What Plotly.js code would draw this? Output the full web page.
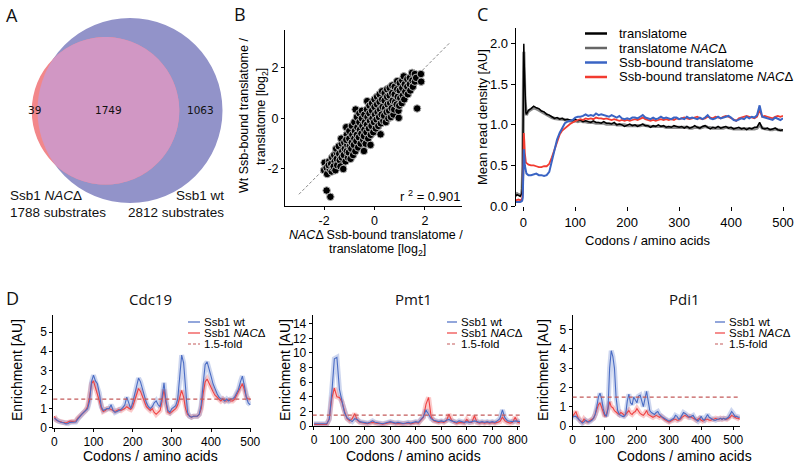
<!DOCTYPE html>
<html><head><meta charset="utf-8">
<script src="https://cdn.plot.ly/plotly-3.0.1.min.js"></script>
<style>html,body{margin:0;padding:0;background:#fff}#chart{width:800px;height:465px}</style>
</head><body><div id="chart"></div>
<script>
// ---------- Panel A: Venn counts ----------
const vennOnlyNac = 39, vennBoth = 1749, vennOnlyWt = 1063;
const vennNames = ['Ssb1 <i>NAC</i>\u0394', 'Ssb1 wt'];

// ---------- Panel B: scatter ----------
const bX = [-2.0,-1.98,-1.9,-1.88,-1.9,-1.8,-1.78,-1.75,-1.82,-1.7,-1.68,-1.72,-1.65,-1.6,-1.58,-1.62,-1.55,-1.5,-1.5,-1.48,-1.52,-1.42,-1.4,-1.38,-1.35,-1.3,-1.28,-1.3,-1.24,-1.32,-1.2,-1.18,-1.22,-1.15,-1.12,-1.1,-1.08,-1.1,-1.05,-1.12,-1.0,-1.0,-0.98,-1.02,-0.95,-0.9,-0.88,-0.9,-0.92,-0.85,-0.8,-0.78,-0.8,-0.82,-0.75,-0.76,-0.7,-0.68,-0.7,-0.72,-0.65,-0.6,-0.6,-0.58,-0.62,-0.55,-0.5,-0.5,-0.48,-0.52,-0.45,-0.42,-0.4,-0.38,-0.4,-0.42,-0.35,-0.29,-0.3,-0.28,-0.3,-0.32,-0.25,-0.2,-0.2,-0.18,-0.22,-0.15,-0.16,-0.1,-0.1,-0.08,-0.12,-0.05,0.0,0.0,0.02,-0.02,0.05,0.1,0.1,0.12,0.08,0.15,0.2,0.2,0.22,0.18,0.24,0.25,0.3,0.3,0.32,0.28,0.35,0.4,0.4,0.42,0.38,0.45,0.5,0.5,0.52,0.48,0.55,0.6,0.6,0.62,0.58,0.65,0.7,0.7,0.72,0.68,0.75,0.8,0.8,0.82,0.78,0.9,0.9,0.92,0.88,0.96,0.95,1.0,1.0,1.02,0.98,1.1,1.1,1.12,1.08,1.16,1.2,1.22,1.18,1.3,1.3,1.32,1.4,1.4,1.42,1.49,1.5,1.52,1.6,1.6,1.69,1.65,1.84,1.85];
const bY = [-2.05,-1.75,-1.95,-2.2,-2.85,-1.7,-2.0,-3.1,-1.85,-2.1,-1.55,-1.8,-1.95,-1.45,-1.7,-1.9,-2.05,-1.35,-1.6,-1.85,-1.2,-1.1,-1.4,-1.65,-1.9,-1.0,-1.3,-1.55,-2.0,-0.8,-0.95,-1.2,-1.45,-1.7,-0.35,-0.65,-1.05,-1.3,-1.55,-0.85,-0.5,-0.8,-1.1,-1.35,-1.6,-0.3,-0.65,-0.95,-1.2,-1.45,-0.15,-0.5,-0.8,-1.05,0.35,-1.3,0.05,-0.35,-0.65,-0.9,-1.15,0.2,-0.15,-0.45,-0.75,-1.0,0.3,0.0,-0.3,-0.6,-0.85,-1.29,0.15,-0.15,-0.45,-0.7,-1.0,0.68,0.35,0.05,-0.25,-0.55,-0.8,0.5,0.2,-0.1,-0.4,-0.65,-1.05,0.6,0.3,0.0,-0.3,-0.55,0.75,0.45,0.15,-0.15,-0.4,0.85,0.55,0.25,-0.05,-0.3,0.95,0.65,0.35,0.05,-0.63,-0.2,1.07,0.75,0.45,0.15,-0.1,1.0,0.7,0.4,0.1,-0.15,1.15,0.85,0.55,0.25,0.0,1.2,0.9,0.6,0.3,0.05,1.3,1.0,0.7,0.4,0.15,1.25,0.95,0.65,0.35,1.47,1.15,0.85,0.55,0.02,0.3,1.4,1.1,0.8,0.5,1.5,1.2,0.9,0.6,1.66,1.35,1.05,0.75,1.55,1.25,0.95,1.6,1.35,1.1,1.8,1.5,1.25,1.75,1.45,0.39,1.6,1.75,1.45];
const bDiag = [-3, 3];
const bR2 = 0.901;

// ---------- Panel C: mean read density ----------
const cNames = ['translatome', 'translatome <i>NAC</i>\u0394', 'Ssb-bound translatome', 'Ssb-bound translatome <i>NAC</i>\u0394'];
const cX = [-15,-12,-9,-6,-3,-2,-1,0,1,2,3,4,5,6,8,10,15,20,25,30,35,40,45,50,55,60,65,70,75,80,85,90,95,100,105,110,115,120,125,130,135,140,145,150,155,160,165,170,175,180,185,190,195,200,205,210,215,220,225,230,235,240,245,250,255,260,265,270,275,280,285,290,295,300,305,310,315,320,325,330,335,340,345,350,355,360,365,370,375,380,385,390,395,400,405,410,415,420,425,430,435,440,445,450,455,460,465,470,475,480,485,490,495,500];
const cTrans = [0.12,0.14,0.13,0.12,0.15,0.2,0.5,1.3,2.0,1.7,1.35,1.2,1.15,1.13,1.16,1.18,
 1.2,1.23,1.21,1.2,1.17,1.16,1.13,1.12,1.1,1.08,1.09,1.07,1.08,1.06,1.07,1.06,1.05,1.07,
 1.05,1.06,1.04,1.05,1.04,1.03,1.05,1.03,1.03,1.02,1.04,1.02,1.02,1.01,1.03,1.0,1.01,1.0,0.98,1.0,
 1.01,0.99,1.0,0.98,1.0,1.01,0.99,0.99,0.97,0.99,0.98,1.0,0.98,0.99,0.97,0.98,0.97,0.99,0.98,0.97,
 0.98,0.96,0.98,0.96,0.97,0.99,0.97,0.96,0.98,0.99,0.97,0.95,0.97,0.96,0.98,0.96,0.97,0.98,0.96,0.97,
 0.95,0.96,0.97,0.95,0.96,0.94,0.96,0.95,0.97,0.97,1.03,0.96,0.95,0.96,0.94,0.95,0.96,0.94,0.93,0.94];
const cTransNac = [0.13,0.15,0.14,0.13,0.16,0.22,0.45,1.2,1.9,1.65,1.3,1.18,1.14,1.12,1.15,1.17,
 1.19,1.21,1.2,1.18,1.16,1.14,1.12,1.1,1.09,1.08,1.07,1.07,1.07,1.06,1.06,1.05,1.05,1.05,
 1.04,1.05,1.04,1.04,1.03,1.03,1.03,1.02,1.02,1.02,1.02,1.01,1.01,1.01,1.01,1.0,1.0,1.0,1.0,0.99,
 0.99,0.99,0.99,0.99,0.99,1.0,0.99,0.98,0.98,0.98,0.98,0.98,0.98,0.98,0.97,0.97,0.97,0.97,0.97,0.97,
 0.97,0.97,0.97,0.96,0.96,0.97,0.97,0.96,0.97,0.98,0.97,0.96,0.96,0.96,0.96,0.96,0.96,0.97,0.96,0.96,
 0.95,0.95,0.95,0.95,0.95,0.95,0.95,0.95,0.95,0.96,1.0,0.96,0.95,0.95,0.94,0.94,0.95,0.94,0.93,0.93];
const cSsb = [0.05,0.05,0.05,0.05,0.06,0.07,0.1,0.35,0.7,0.62,0.5,0.44,0.42,0.4,0.39,0.38,
 0.38,0.39,0.4,0.38,0.38,0.37,0.38,0.42,0.55,0.7,0.82,0.9,0.97,1.02,1.04,1.05,1.06,1.09,
 1.1,1.1,1.11,1.13,1.11,1.12,1.11,1.14,1.12,1.13,1.12,1.11,1.1,1.12,1.1,1.09,1.11,1.08,1.07,1.08,
 1.07,1.09,1.09,1.08,1.1,1.12,1.09,1.08,1.07,1.09,1.07,1.08,1.1,1.08,1.09,1.08,1.07,1.09,1.09,1.07,
 1.08,1.07,1.1,1.08,1.09,1.08,1.07,1.09,1.07,1.09,1.12,1.08,1.07,1.08,1.1,1.08,1.09,1.1,1.11,1.09,
 1.06,1.05,1.07,1.08,1.07,1.1,1.08,1.1,1.09,1.12,1.24,1.1,1.09,1.08,1.07,1.06,1.09,1.07,1.06,1.08];
const cSsbNac = [0.07,0.08,0.08,0.07,0.08,0.1,0.15,0.45,0.9,0.8,0.65,0.57,0.54,0.53,0.52,0.51,
 0.5,0.5,0.49,0.48,0.48,0.49,0.49,0.52,0.6,0.7,0.8,0.88,0.93,0.96,0.99,1.01,1.03,1.05,
 1.06,1.07,1.06,1.08,1.07,1.08,1.07,1.09,1.08,1.08,1.07,1.08,1.07,1.06,1.07,1.06,1.05,1.06,1.05,1.06,
 1.05,1.06,1.07,1.06,1.08,1.09,1.07,1.06,1.05,1.06,1.05,1.06,1.07,1.06,1.07,1.06,1.07,1.06,1.08,1.07,
 1.08,1.09,1.08,1.07,1.08,1.09,1.1,1.08,1.07,1.08,1.1,1.09,1.08,1.1,1.09,1.08,1.1,1.11,1.1,1.08,
 1.06,1.05,1.08,1.09,1.1,1.11,1.1,1.09,1.08,1.1,1.18,1.1,1.11,1.1,1.09,1.08,1.1,1.11,1.1,1.11];

// ---------- Panel D: enrichment profiles ----------
const dNames = ['Ssb1 wt', 'Ssb1 <i>NAC</i>\u0394', '1.5-fold'];
const foldThreshold = 1.5;
const cdcX = [0,5,10,15,20,25,30,35,40,45,50,55,60,65,70,75,80,85,90,95,100,105,110,115,120,125,130,135,140,145,150,155,160,165,170,175,180,185,190,195,200,205,210,215,220,225,230,235,240,245,250,255,260,265,270,275,280,285,290,295,300,305,310,315,320,325,330,335,340,345,350,355,360,365,370,375,380,385,390,395,400,405,410,415,420,425,430,435,440,445,450,455,460,465,470,475,480,485,490,495,500];
const cdcWt = [0.5,0.4,0.35,0.3,0.28,0.25,0.2,0.22,0.28,0.3,0.28,0.3,0.45,0.6,0.7,0.8,0.9,1.0,1.4,2.4,2.75,2.45,2.3,1.8,1.1,0.9,0.95,1.0,1.0,1.2,0.9,0.8,0.85,0.9,0.95,1.05,1.2,1.6,1.25,1.0,1.3,1.7,2.2,2.6,2.4,2.0,1.6,1.3,1.1,1.0,1.1,1.3,1.4,1.2,1.1,1.6,2.35,1.4,0.9,0.8,1.0,1.1,1.15,1.5,2.5,3.8,3.4,2.0,0.8,0.6,0.55,0.6,0.6,0.6,0.7,1.2,2.3,3.3,3.45,3.0,2.7,2.3,2.0,1.8,1.6,1.5,1.5,1.4,1.5,1.4,1.5,1.5,1.6,1.8,2.0,2.4,2.7,2.2,1.6,1.3,1.2];
const cdcNac = [0.6,0.4,0.35,0.3,0.28,0.27,0.25,0.3,0.35,0.33,0.33,0.35,0.5,0.6,0.7,0.8,0.9,1.1,1.6,2.3,2.45,2.1,1.8,1.4,1.0,0.85,0.9,1.0,1.0,0.95,0.9,0.85,0.9,0.95,0.9,0.95,1.0,1.1,1.0,0.95,1.1,1.4,1.8,2.05,1.9,1.6,1.3,1.1,1.0,0.9,1.0,0.8,0.7,0.8,0.9,1.4,2.0,1.3,0.8,0.75,0.85,0.9,1.0,1.2,1.6,1.95,1.6,1.0,0.7,0.6,0.55,0.6,0.6,0.6,0.7,1.0,1.8,2.4,2.55,2.3,2.1,1.9,1.7,1.6,1.5,1.4,1.5,1.4,1.4,1.45,1.4,1.4,1.5,1.7,1.9,2.1,2.3,2.0,1.6,1.5,1.5];
const pmtX = [0,10,20,30,40,50,60,70,80,90,100,110,120,130,140,150,160,170,180,190,200,210,220,230,240,250,260,270,280,290,300,310,320,330,340,350,360,370,380,390,400,410,420,430,440,450,460,470,480,490,500,510,520,530,540,550,560,570,580,590,600,610,620,630,640,650,660,670,680,690,700,710,720,730,740,750,760,770,780,790,800,810];
const pmtWt = [0.3,0.3,0.25,0.2,0.25,0.3,0.9,4.5,9.2,9.4,5.0,3.2,1.8,1.1,0.8,0.6,1.0,0.9,0.6,0.5,0.5,0.4,0.5,0.7,0.5,0.4,0.35,0.3,0.4,0.5,0.6,0.5,0.4,0.5,0.4,0.35,0.4,0.5,0.4,0.5,0.6,0.5,0.9,1.3,2.2,1.6,1.0,0.8,0.7,0.6,0.7,0.6,0.8,0.9,0.7,0.6,0.5,0.7,0.6,0.5,0.6,0.5,0.6,0.7,0.6,0.5,0.6,0.5,0.6,0.5,0.6,0.5,0.7,1.0,2.2,1.1,0.7,0.6,0.6,0.7,0.6,0.6];
const pmtNac = [0.2,0.2,0.15,0.15,0.2,0.2,1.0,3.8,5.2,4.0,3.9,3.3,2.0,1.0,0.7,1.0,1.7,0.8,0.5,0.4,0.4,0.3,0.4,0.5,0.4,0.3,0.3,0.25,0.3,0.4,0.5,0.4,0.3,0.35,0.3,0.3,0.35,0.4,0.3,0.4,0.5,0.4,0.8,1.2,3.0,3.9,1.3,0.7,0.6,0.5,0.6,0.5,0.7,1.6,0.8,0.5,0.4,0.5,0.5,0.4,0.9,0.5,0.5,1.4,0.5,0.4,0.5,0.4,0.5,0.4,0.5,0.4,0.5,0.6,1.2,0.7,0.5,0.4,0.5,1.2,0.5,0.4];
const pdiX = [0,5,10,15,20,25,30,35,40,45,50,55,60,65,70,75,80,85,90,95,100,105,110,115,120,125,130,135,140,145,150,155,160,165,170,175,180,185,190,195,200,205,210,215,220,225,230,235,240,245,250,255,260,265,270,275,280,285,290,295,300,305,310,315,320,325,330,335,340,345,350,355,360,365,370,375,380,385,390,395,400,405,410,415,420,425,430,435,440,445,450,455,460,465,470,475,480,485,490,495,500,505,510,515,520];
const pdiWt = [0.45,0.5,0.5,0.4,0.3,0.2,0.15,0.2,0.3,0.25,0.2,0.25,0.3,0.4,0.6,1.0,1.5,1.7,1.4,0.9,0.6,0.5,0.9,3.0,3.9,3.6,3.0,1.5,0.8,0.6,0.55,0.5,0.5,0.6,1.3,1.65,1.2,1.1,1.5,1.3,1.2,1.55,1.6,1.3,1.0,1.4,1.8,1.3,0.8,0.7,0.65,0.6,0.7,0.75,0.6,0.5,0.45,0.4,0.35,0.3,0.25,0.3,0.35,0.4,0.55,0.5,0.35,0.4,0.55,0.7,0.65,0.55,0.5,0.45,0.5,0.55,0.4,0.3,0.25,0.35,0.5,0.35,0.3,0.45,0.6,0.45,0.4,0.35,0.3,0.3,0.35,0.35,0.4,0.35,0.4,0.35,0.4,0.45,0.6,0.75,0.65,0.5,0.5,0.45,0.45];
const pdiNac = [0.5,0.6,0.75,0.5,0.3,0.25,0.2,0.35,0.25,0.2,0.25,0.3,0.35,0.4,0.6,0.85,1.1,1.2,1.0,0.7,0.5,0.6,1.0,1.25,1.0,0.95,0.8,0.7,0.65,0.6,0.7,0.65,0.55,0.6,0.7,0.8,0.65,0.6,0.7,0.75,0.9,0.75,0.65,0.6,0.55,0.65,0.8,0.6,0.55,0.5,0.45,0.5,0.55,0.5,0.45,0.5,0.4,0.35,0.3,0.25,0.2,0.25,0.3,0.35,0.35,0.3,0.3,0.35,0.45,0.5,0.55,0.5,0.45,0.5,0.45,0.4,0.35,0.3,0.35,0.4,0.3,0.25,0.3,0.35,0.35,0.3,0.3,0.35,0.35,0.4,0.35,0.35,0.4,0.35,0.4,0.35,0.35,0.4,0.45,0.55,0.5,0.45,0.4,0.4,0.35];
const dTitles = ['Cdc19', 'Pmt1', 'Pdi1'];

// ---------- layout helpers (pixel placement on an 800x465 canvas) ----------
const W = 800, H = 465;
const FONT = 'Liberation Sans, Arial, sans-serif';
const TFONT = 'Open Sans, sans-serif';
const px = v => v / W, py = v => 1 - v / H;
const dom = (a, b) => [px(a), px(b)];
const domY = (top, bot) => [py(bot), py(top)];
function axis(domain, range, extra) {
  return Object.assign({domain, range, showline: true, linecolor: '#000', linewidth: 1, mirror: false,
    ticks: 'outside', ticklen: 4, tickwidth: 1, tickcolor: '#000', showgrid: false, zeroline: false,
    fixedrange: true, tickfont: {family: FONT, size: 13, color: '#000'}}, extra || {});
}
function ann(text, x, y, o) {
  return Object.assign({text, x: px(x), y: py(y), xref: 'paper', yref: 'paper', showarrow: false,
    xanchor: 'center', yanchor: 'middle', font: {family: FONT, size: 13, color: '#000'}}, o || {});
}
function seg(x0, x1, y, color, width, dash) {
  return {type: 'line', xref: 'paper', yref: 'paper', x0: px(x0), x1: px(x1), y0: py(y), y1: py(y),
    line: {color, width, dash: dash || 'solid'}};
}

const BLUE_C = '#3a64c4', RED_C = '#f23b30';
const BLUE_D = '#4a6cc4', RED_D = '#ef4242', FOLD_C = '#c45a5a';
const dTick = {family: FONT, size: 12, color: '#000'};

const traces = [];
// Panel B
traces.push({x: bDiag, y: bDiag, xaxis: 'x', yaxis: 'y', mode: 'lines', hoverinfo: 'skip',
  line: {color: '#888', width: 1, dash: '3px,2px'}});
traces.push({x: bX, y: bY, xaxis: 'x', yaxis: 'y', mode: 'markers', type: 'scatter',
  marker: {size: 7.5, color: '#000', line: {color: '#b4b4b4', width: 1}}});
// Panel C
traces.push({x: cX, y: cTransNac, xaxis: 'x2', yaxis: 'y2', mode: 'lines', line: {color: 'rgba(110,110,110,0.8)', width: 3.2}});
traces.push({x: cX, y: cTrans, xaxis: 'x2', yaxis: 'y2', mode: 'lines', line: {color: '#000', width: 1.5}});
traces.push({x: cX, y: cSsbNac, xaxis: 'x2', yaxis: 'y2', mode: 'lines', line: {color: RED_C, width: 1.8}});
traces.push({x: cX, y: cSsb, xaxis: 'x2', yaxis: 'y2', mode: 'lines', line: {color: BLUE_C, width: 2}});
// Panel D
const dSets = [[cdcX, cdcWt, cdcNac], [pmtX, pmtWt, pmtNac], [pdiX, pdiWt, pdiNac]];
dSets.forEach((s, i) => {
  const xa = 'x' + (i + 3), ya = 'y' + (i + 3);
  traces.push({x: s[0], y: s[2], xaxis: xa, yaxis: ya, mode: 'lines', line: {color: 'rgba(239,66,66,0.28)', width: 5}});
  traces.push({x: s[0], y: s[1], xaxis: xa, yaxis: ya, mode: 'lines', line: {color: 'rgba(74,108,196,0.28)', width: 5}});
  traces.push({x: s[0], y: s[2], xaxis: xa, yaxis: ya, mode: 'lines', line: {color: RED_D, width: 1.1}});
  traces.push({x: s[0], y: s[1], xaxis: xa, yaxis: ya, mode: 'lines', line: {color: BLUE_D, width: 1.1}});
});

// Venn geometry from counts (area proportional to count)
const nacTotal = vennOnlyNac + vennBoth, wtTotal = vennBoth + vennOnlyWt;
const rWt = 92.5, rNac = rWt * Math.sqrt(nacTotal / wtTotal);
const cWt = [130, 110.5], cNac = [105.5, 110.8];
const shapes = [];
shapes.push({type: 'circle', xref: 'x6', yref: 'y6', x0: cWt[0] - rWt, x1: cWt[0] + rWt, y0: cWt[1] - rWt, y1: cWt[1] + rWt,
  fillcolor: '#9293c9', line: {width: 0}});
shapes.push({type: 'circle', xref: 'x6', yref: 'y6', x0: cNac[0] - rNac, x1: cNac[0] + rNac, y0: cNac[1] - rNac, y1: cNac[1] + rNac,
  fillcolor: '#f2878a', line: {width: 0}});
let path = '';
for (let k = 0; k <= 180; k++) {
  const t = 2 * Math.PI * k / 180;
  let x = cNac[0] + rNac * Math.cos(t), y = cNac[1] + rNac * Math.sin(t);
  const dx = x - cWt[0], dy = y - cWt[1], d = Math.hypot(dx, dy);
  if (d > rWt) { x = cWt[0] + dx * rWt / d; y = cWt[1] + dy * rWt / d; }
  path += (k === 0 ? 'M' : 'L') + x.toFixed(2) + ',' + y.toFixed(2) + ' ';
}
shapes.push({type: 'path', xref: 'x6', yref: 'y6', path: path + 'Z', fillcolor: '#d197c4', line: {width: 0}});

// fold-change thresholds
['3', '4', '5'].forEach(n => shapes.push({type: 'line', xref: 'x' + n + ' domain', yref: 'y' + n, x0: 0, x1: 1,
  y0: foldThreshold, y1: foldThreshold, line: {color: FOLD_C, width: 1.2, dash: '4px,3px'}}));

// Panel C legend
const cLegY = [33.5, 48, 62.5, 77];
const cLegCol = ['#000', '#666', BLUE_C, RED_C];
cLegY.forEach((y, i) => shapes.push(seg(585, 607, y, cLegCol[i], 2.5)));
// Panel D legends
const dLeg = [[188, 200, 202], [447, 457, 459], [715, 725, 727]];
const dLegY = [322, 333, 344];
dLeg.forEach(l => {
  shapes.push(seg(l[0], l[1], dLegY[0], BLUE_D, 1.2));
  shapes.push(seg(l[0], l[1], dLegY[1], RED_D, 1.2));
  shapes.push(seg(l[0], l[1], dLegY[2], FOLD_C, 1.2, '3px,2px'));
});

const annotations = [];
// panel letters
[['A', 12, 15], ['B', 240, 14], ['C', 482, 14], ['D', 12, 298]].forEach(a =>
  annotations.push(ann(a[0], a[1], a[2], {font: {family: TFONT, size: 18, color: '#111'}})));
// Venn labels
const vf = {family: 'DejaVu Sans, sans-serif', size: 10.5, color: '#111'};
annotations.push(ann(String(vennOnlyNac), 34, 110, {font: vf}));
annotations.push(ann(String(vennBoth), 108, 110, {font: vf}));
annotations.push(ann(String(vennOnlyWt), 201, 110, {font: vf}));
const lf = {family: FONT, size: 13.5, color: '#111'};
annotations.push(ann(vennNames[0], 8, 195, {xanchor: 'left', font: lf}));
annotations.push(ann(nacTotal + ' substrates', 8, 212, {xanchor: 'left', font: lf}));
annotations.push(ann(vennNames[1], 226, 195, {xanchor: 'right', font: lf}));
annotations.push(ann(wtTotal + ' substrates', 226, 212, {xanchor: 'right', font: lf}));
// Panel B titles
annotations.push(ann('Wt Ssb-bound translatome /', 244, 116, {textangle: -90, font: {family: FONT, size: 12.5}}));
annotations.push(ann('translatome [log<sub>2</sub>]', 262, 117, {textangle: -90, font: {family: FONT, size: 12.5}}));
annotations.push(ann('<i>NAC</i>\u0394 Ssb-bound translatome /', 376, 234.5, {font: {family: FONT, size: 12.5}}));
annotations.push(ann('translatome [log<sub>2</sub>]', 377, 250, {font: {family: FONT, size: 12.5}}));
annotations.push(ann('r <sup>2</sup> = ' + bR2.toFixed(3), 462, 196, {xanchor: 'right', font: {family: FONT, size: 13}}));
// Panel C titles & legend
annotations.push(ann('Mean read density [AU]', 483, 117, {textangle: -90, font: {family: FONT, size: 13}}));
annotations.push(ann('Codons / amino acids', 648, 240, {font: {family: FONT, size: 13}}));
cLegY.forEach((y, i) => annotations.push(ann(cNames[i], 617, y, {xanchor: 'left', font: {family: FONT, size: 13}})));
// Panel D titles
const dCenters = [150, 413, 684];
const dYT = [17, 285, 543];
dTitles.forEach((t, i) => {
  annotations.push(ann(t, dCenters[i], 299, {font: {family: TFONT, size: 15, color: '#111'}}));
  annotations.push(ann('Codons / amino acids', dCenters[i], 456, {font: {family: FONT, size: 14}}));
  annotations.push(ann('Enrichment [AU]', dYT[i], 370, {textangle: -90, font: {family: FONT, size: 14}}));
  dNames.forEach((n, j) => annotations.push(ann(n, dLeg[i][2], dLegY[j], {xanchor: 'left', font: {family: FONT, size: 11.5}})));
});

const dAx = {ticklen: 3, tickfont: dTick};
const bAx = {ticklen: 3, tickfont: {family: FONT, size: 12.5, color: '#000'}};
const layout = {
  width: W, height: H, margin: {l: 0, r: 0, t: 0, b: 0}, paper_bgcolor: '#fff', plot_bgcolor: 'rgba(0,0,0,0)',
  showlegend: false, font: {family: FONT, color: '#000'},
  xaxis: axis(dom(285, 462), [-3.55, 3.47], Object.assign({anchor: 'y', tickvals: [-2, 0, 2], ticktext: ['-2', '0', '2']}, bAx)),
  yaxis: axis(domY(30, 205.7), [-3.45, 3.49], Object.assign({anchor: 'x', tickvals: [-2, 0, 2], ticktext: ['-2', '0', '2']}, bAx)),
  xaxis2: axis(dom(515.7, 783), [-14.6, 500], {anchor: 'y2', tickvals: [0, 100, 200, 300, 400, 500], showline: false}),
  yaxis2: axis(domY(28.3, 206), [0, 2.19], {anchor: 'x2', tickvals: [0, 0.5, 1, 1.5, 2], tickformat: '.1f'}),
  xaxis3: axis(dom(53.3, 251), [-2.5, 502], Object.assign({anchor: 'y3', tickvals: [0, 100, 200, 300, 400, 500]}, dAx)),
  yaxis3: axis(domY(315, 427.7), [0, 5.9], Object.assign({anchor: 'x3', tickvals: [0, 1, 2, 3, 4, 5]}, dAx)),
  xaxis4: axis(dom(312.7, 520), [-5, 809], Object.assign({anchor: 'y4', tickvals: [0, 100, 200, 300, 400, 500, 600, 700, 800]}, dAx)),
  yaxis4: axis(domY(315, 426), [0, 15.2], Object.assign({anchor: 'x4', tickvals: [0, 2, 4, 6, 8, 10, 12, 14]}, dAx)),
  xaxis5: axis(dom(572.7, 740), [0, 521], Object.assign({anchor: 'y5', tickvals: [0, 100, 200, 300, 400, 500]}, dAx)),
  yaxis5: axis(domY(315, 426), [0, 5.75], Object.assign({anchor: 'x5', tickvals: [0, 1, 2, 3, 4, 5]}, dAx)),
  xaxis6: {domain: [0, 1], range: [0, W], visible: false, fixedrange: true, anchor: 'y6'},
  yaxis6: {domain: [0, 1], range: [H, 0], visible: false, fixedrange: true, anchor: 'x6'},
  shapes, annotations
};
Plotly.newPlot('chart', traces, layout, {staticPlot: true, displayModeBar: false});
</script></body></html>
